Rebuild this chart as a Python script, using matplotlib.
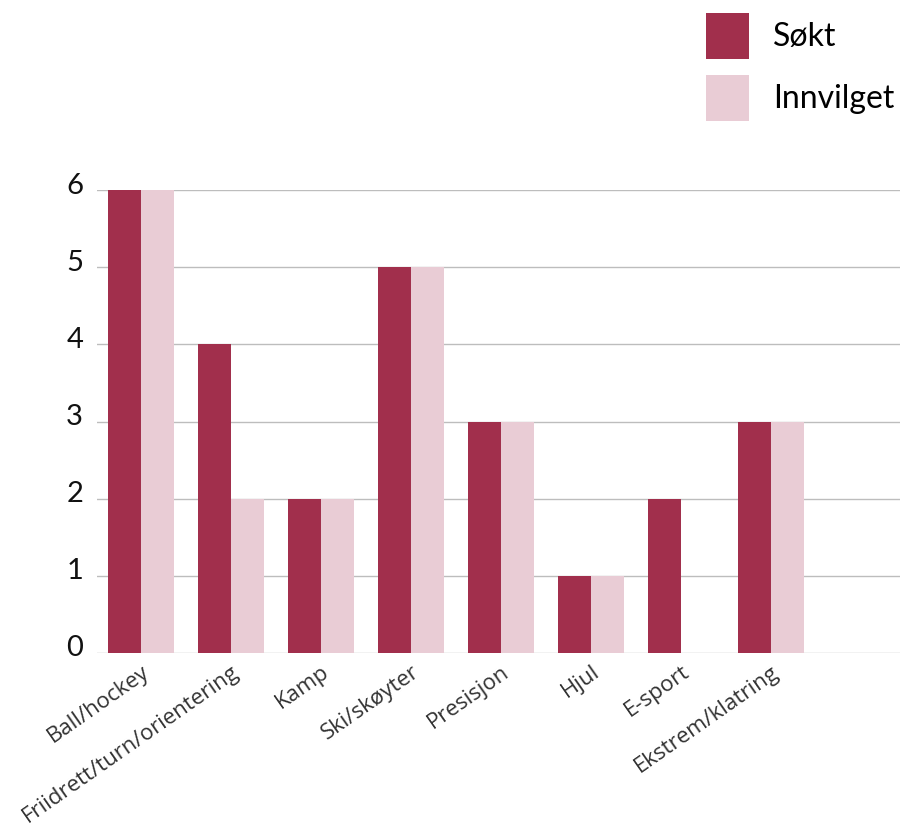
import matplotlib.pyplot as plt
import matplotlib.transforms as mtransforms
import numpy as np

# data
kategorier = ['Ball/hockey', 'Friidrett/turn/orientering', 'Kamp', 'Ski/skøyter',
              'Presisjon', 'Hjul', 'E-sport', 'Ekstrem/klatring']
sokt = [6, 4, 2, 5, 3, 1, 2, 3]
innvilget = [6, 2, 2, 5, 3, 1, 0, 3]

FARGE_SOKT = '#A12F4C'
FARGE_INNV = '#E9CCD5'

fig = plt.figure(figsize=(9, 8.32), dpi=100)
ax = fig.add_axes([97 / 900, 1 - 653 / 832, 803 / 900, (653 - 190) / 832])

x = np.arange(len(kategorier))
w = 0.367
ax.bar(x - w / 2, sokt, width=w, color=FARGE_SOKT, label='Søkt', zorder=3)
ax.bar(x + w / 2, innvilget, width=w, color=FARGE_INNV, label='Innvilget', zorder=3)

ax.set_xlim(-0.49, 8.43)
ax.set_ylim(0, 6)
ax.set_yticks(range(0, 7))
ax.grid(axis='y', color='#bdbdbd', linewidth=1, zorder=0)
ax.set_axisbelow(True)
for s in ax.spines.values():
    s.set_visible(False)

ax.tick_params(axis='both', length=0)
ax.tick_params(axis='y', pad=10)
for lab in ax.get_yticklabels():
    lab.set_fontfamily('Lato')
    lab.set_fontsize(21)
    lab.set_color('#111111')
    lab.set_transform(lab.get_transform() + mtransforms.ScaledTranslation(0, 7 / 100, fig.dpi_scale_trans))

ax.set_xticks(x)
ax.set_xticklabels(kategorier, rotation=35, ha='right', rotation_mode='anchor',
                   fontfamily='Open Sans', fontsize=16, color='#333333')
ax.tick_params(axis='x', pad=6)

leg = fig.legend(loc='upper left', bbox_to_anchor=(706 / 900, 1 - 13 / 832),
                 frameon=False, borderpad=0, borderaxespad=0,
                 handlelength=1.35, handleheight=1.83, handletextpad=0.75,
                 labelspacing=0.5, prop={'family': 'Lato', 'size': 23})

fig.savefig('out.png', dpi=100)
